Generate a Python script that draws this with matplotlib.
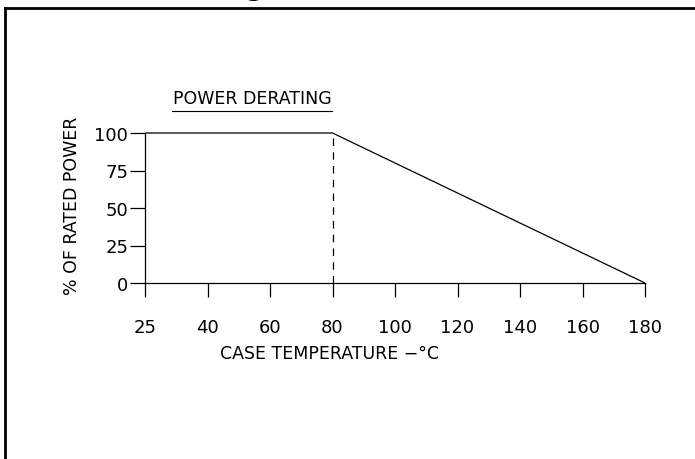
import numpy as np
import matplotlib.pyplot as plt
from matplotlib.lines import Line2D

# tick labels on the temperature axis (equally spaced on the drawing)
temp_ticks = [25, 40, 60, 80, 100, 120, 140, 160, 180]
power_ticks = [0, 25, 50, 75, 100]

# derating curve
temps = [25, 80, 180]
power = [100, 100, 0]

# knee marker (dashed)
knee_temp = 80
knee_power = 100

W, H = 695, 460
fig = plt.figure(figsize=(W / 100, H / 100), dpi=100)

def px(x, y):
    return x / W, 1 - y / H

# axes placed where the drawing has it
ax = fig.add_axes([145 / W, 176 / H, 500 / W, 150 / H])

tick_pos = np.arange(len(temp_ticks))
xpos = np.interp(temps, temp_ticks, tick_pos)
knee_x = np.interp(knee_temp, temp_ticks, tick_pos)

ax.plot(xpos, power, color="black", lw=0.9, clip_on=False, solid_capstyle="butt")
ax.plot([knee_x, knee_x], [0, knee_power], color="black", lw=0.9,
        dashes=(6, 5), clip_on=False)

ax.set_xlim(tick_pos[0], tick_pos[-1])
ax.set_ylim(0, 100)
ax.set_xticks(tick_pos)
ax.set_xticklabels([str(t) for t in temp_ticks])
ax.set_yticks(power_ticks)
ax.set_yticklabels([str(p) for p in power_ticks])

for s in ["top", "right"]:
    ax.spines[s].set_visible(False)
for s in ["left", "bottom"]:
    ax.spines[s].set_linewidth(0.9)

ax.tick_params(axis="x", direction="out", length=10, width=0.9, pad=15, labelsize=13)
ax.tick_params(axis="y", direction="out", length=11, width=0.9, pad=1, labelsize=13)
ax.patch.set_visible(False)

# text
fig.text(*px(330, 354), "CASE TEMPERATURE \u2212\u00b0C", ha="center", va="center", fontsize=12.5)
fig.text(*px(72, 206), "% OF RATED POWER", ha="center", va="center",
         rotation=90, fontsize=12.5)
fig.text(*px(252, 99), "POWER DERATING", ha="center", va="center", fontsize=12.5)
fig.add_artist(Line2D([172 / W, 332 / W], [1 - 111.5 / H] * 2, color="black", lw=0.8))

# cut-off title descender at very top
fig.text(255 / W, (H + 5) / H, "g", ha="center", va="baseline",
         fontsize=20, fontweight="bold")

# frame (only top and left edges are visible)
fig.add_artist(Line2D([5 / W, 1.0], [1 - 9 / H] * 2, color="black", lw=2.0))
fig.add_artist(Line2D([5 / W, 5 / W], [1 - 9 / H, 0.0], color="black", lw=2.0))

fig.savefig("out.png", dpi=100)
